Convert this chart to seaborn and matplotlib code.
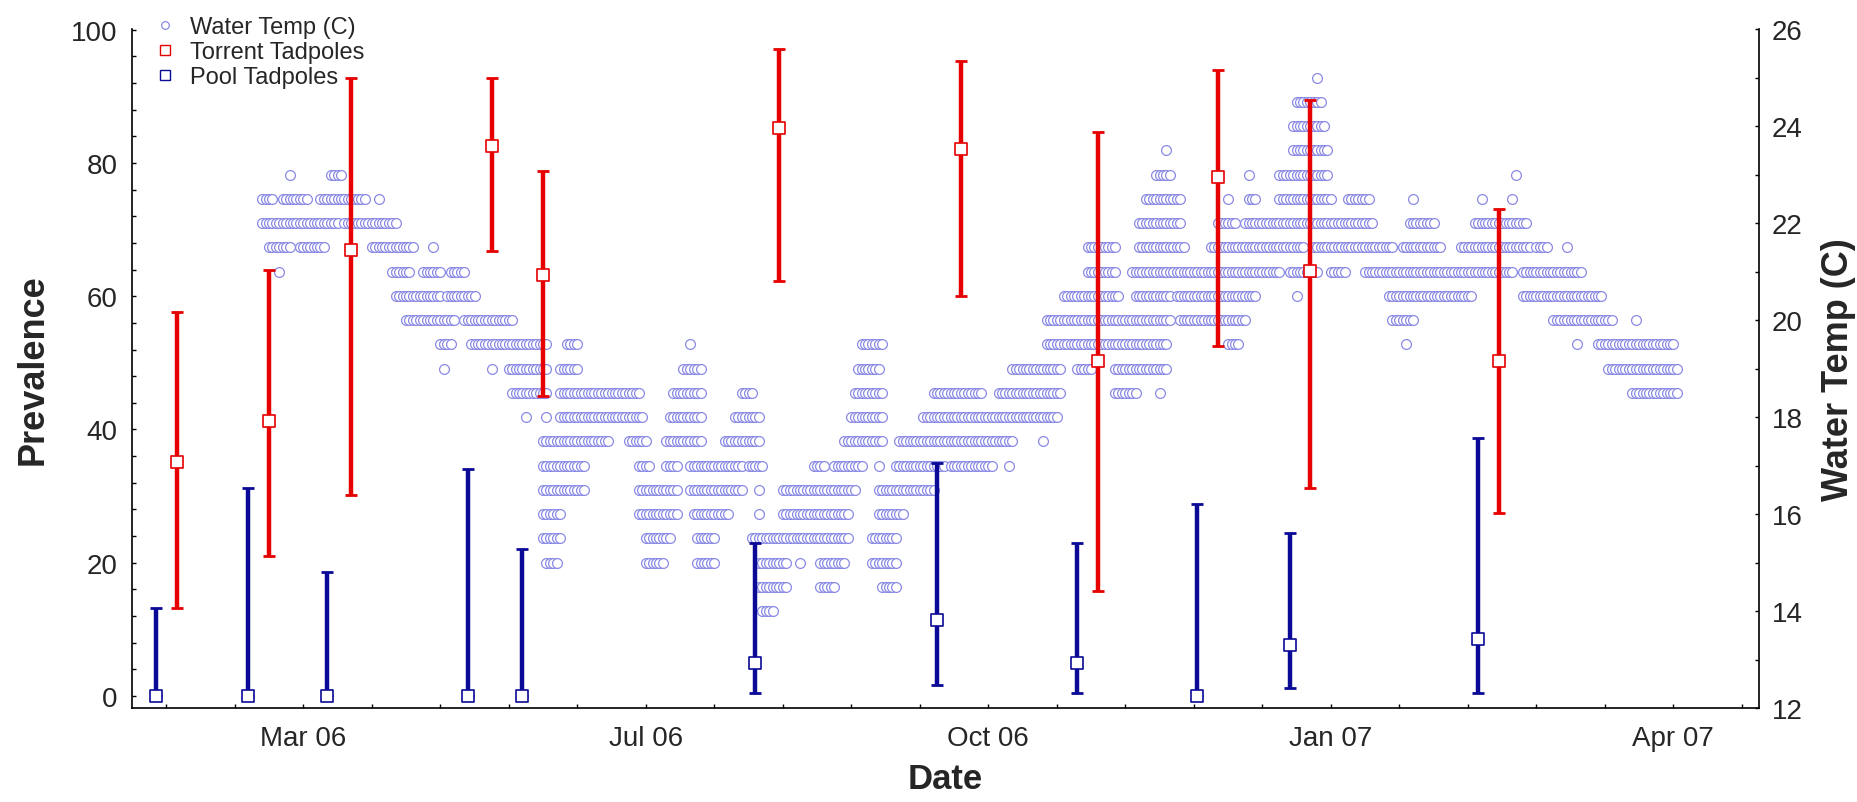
import numpy as np
import pandas as pd
import matplotlib
matplotlib.use("Agg")
import matplotlib.pyplot as plt
import matplotlib.dates as mdates
from matplotlib.ticker import FixedLocator, FixedFormatter, MultipleLocator
from matplotlib.lines import Line2D
import seaborn as sns

# ---------------- data ----------------
ORIGIN = pd.Timestamp("2006-02-03")   # temperature runs are given in days since this date

# water temperature (0.5 C logger resolution): runs of consecutive days (start, end) per level
t250 = [(346, 346)]
t245 = [(340, 347)]
t240 = [(339, 348)]
t235 = [(302, 302), (339, 349)]
t230 = [(46, 46), (58, 61), (299, 303), (326, 326), (335, 349), (404, 404)]
t225 = [(38, 41), (44, 51), (55, 68), (72, 72), (296, 306), (320, 320), (326, 328),
        (335, 350), (355, 361), (374, 374), (394, 394), (403, 403)]
t220 = [(38, 60), (62, 77), (294, 306), (317, 322), (325, 362), (373, 380), (392, 407)]
t215 = [(40, 46), (49, 56), (70, 82), (88, 88), (279, 287), (294, 307), (315, 342),
        (345, 368), (371, 382), (388, 408), (410, 413), (419, 419)]
t210 = [(43, 43), (76, 81), (85, 90), (93, 97), (279, 287), (292, 335), (338, 346),
        (350, 354), (360, 403), (406, 423)]
t205 = [(77, 90), (92, 100), (272, 288), (293, 303), (305, 328), (340, 340), (367, 379),
        (380, 391), (406, 429)]
t200 = [(80, 94), (97, 111), (267, 290), (291, 303), (306, 325), (368, 374), (415, 432),
        (439, 439)]
t195 = [(90, 93), (99, 121), (127, 130), (163, 163), (213, 219), (267, 302), (320, 323),
        (372, 372), (422, 422), (428, 450)]
t190 = [(91, 91), (105, 105), (110, 121), (125, 130), (161, 166), (212, 218), (257, 271),
        (276, 280), (287, 302), (431, 451)]
t185 = [(111, 121), (125, 148), (158, 166), (178, 181), (211, 219), (234, 248), (253, 271),
        (287, 293), (300, 300), (438, 451)]
t180 = [(115, 115), (121, 121), (125, 149), (157, 166), (176, 183), (210, 219), (231, 270)]
t175 = [(120, 139), (145, 150), (156, 166), (173, 183), (208, 219), (224, 257), (266, 266)]
t170 = [(120, 132), (148, 151), (156, 159), (163, 178), (180, 184), (199, 202), (205, 213),
        (218, 218), (223, 237), (239, 251), (256, 256)]
t165 = [(120, 132), (148, 159), (163, 178), (183, 183), (190, 211), (218, 234)]
t160 = [(120, 125), (148, 159), (164, 174), (183, 183), (190, 209), (218, 225)]
t155 = [(120, 125), (150, 157), (165, 170), (181, 209), (216, 223)]
t150 = [(121, 124), (150, 155), (165, 170), (183, 191), (195, 195), (201, 208), (216, 223)]
t145 = [(183, 191), (201, 205), (219, 223)]
t140 = [(184, 187)]

temp_levels = [25.0, 24.5, 24.0, 23.5, 23.0, 22.5, 22.0, 21.5, 21.0, 20.5, 20.0, 19.5,
               19.0, 18.5, 18.0, 17.5, 17.0, 16.5, 16.0, 15.5, 15.0, 14.5, 14.0]
temp_runs = [t250, t245, t240, t235, t230, t225, t220, t215, t210, t205, t200, t195,
             t190, t185, t180, t175, t170, t165, t160, t155, t150, t145, t140]

# tadpole prevalence (mean with interval)
torrent_dates = ["2006-02-16", "2006-03-15", "2006-04-08", "2006-05-19", "2006-06-03",
                 "2006-08-11", "2006-10-03", "2006-11-12", "2006-12-17", "2007-01-13",
                 "2007-03-09"]
torrent_mean = [35.1, 41.3, 67.0, 82.6, 63.2, 85.3, 82.1, 50.3, 77.9, 63.8, 50.3]
torrent_upper = [57.7, 64.0, 92.8, 92.8, 78.8, 97.1, 95.3, 84.7, 94.0, 89.5, 73.1]
torrent_lower = [13.2, 21.0, 30.2, 66.8, 45.0, 62.3, 60.0, 15.8, 52.6, 31.2, 27.5]

pool_dates = ["2006-02-10", "2006-03-09", "2006-04-01", "2006-05-12", "2006-05-28",
              "2006-08-04", "2006-09-26", "2006-11-06", "2006-12-11", "2007-01-07",
              "2007-03-03"]
pool_mean = [0, 0, 0, 0, 0, 5.0, 11.4, 5.0, 0, 7.7, 8.6]
pool_upper = [13.2, 31.2, 18.6, 34.0, 22.1, 23.0, 35.0, 23.0, 28.8, 24.5, 38.7]
pool_lower = [0, 0, 0, 0, 0, 0.45, 1.7, 0.45, 0, 1.2, 0.45]

x_tick_dates = ["2006-03-25", "2006-07-03", "2006-10-11", "2007-01-19", "2007-04-29"]
x_tick_labels = ["Mar 06", "Jul 06", "Oct 06", "Jan 07", "Apr 07"]

# ---------------- frames ----------------
rows = []
for lvl, runs in zip(temp_levels, temp_runs):
    for a, b in runs:
        for d in range(a, b + 1):
            rows.append((ORIGIN + pd.Timedelta(days=d), lvl))
temp_df = pd.DataFrame(rows, columns=["date", "temp"]).sort_values("date", kind="stable")

tor = pd.DataFrame({"date": pd.to_datetime(torrent_dates), "mean": torrent_mean,
                    "up": torrent_upper, "lo": torrent_lower})
pool = pd.DataFrame({"date": pd.to_datetime(pool_dates), "mean": pool_mean,
                     "up": pool_upper, "lo": pool_lower})

# ---------------- style ----------------
sns.set_style("white")
plt.rcParams["font.family"] = ["Liberation Sans", "DejaVu Sans"]

RED = "#e60000"
BLUE = "#0a0a96"
TEMP = "#8a8ae6"

W, H = 1858, 803
fig = plt.figure(figsize=(W / 100, H / 100), dpi=100)
L, R, T, B = 132, 1759, 30, 709
ax = fig.add_axes([L / W, 1 - B / H, (R - L) / W, (B - T) / H])
ax2 = ax.twinx()
ax.set_zorder(ax2.get_zorder() + 1)
ax.patch.set_visible(False)

# temperature on right axis
sns.scatterplot(data=temp_df, x="date", y="temp", ax=ax2, marker="o", s=50,
                color="white", edgecolor=TEMP, linewidth=0.9, legend=False, zorder=1)

# error bars on left axis
for df, col in [(pool, BLUE), (tor, RED)]:
    ax.errorbar(df["date"], df["mean"],
                yerr=[df["mean"] - df["lo"], df["up"] - df["mean"]],
                fmt="none", ecolor=col, elinewidth=3.2, capsize=4.0, capthick=2.0, zorder=3)
    sns.scatterplot(data=df, x="date", y="mean", ax=ax, marker="s", s=64,
                    color="white", edgecolor=col, linewidth=1.2, legend=False, zorder=5)

# axes ranges
ax.set_xlim(ORIGIN, pd.Timestamp("2007-05-24"))
ax.set_ylim(-1.8, 100.1)
ax2.set_ylim(12, 26)

# ticks
ax.xaxis.set_major_locator(FixedLocator(mdates.date2num(pd.to_datetime(x_tick_dates))))
ax.xaxis.set_major_formatter(FixedFormatter(x_tick_labels))
ax.xaxis.set_minor_locator(FixedLocator(mdates.date2num(
    pd.date_range("2006-02-13", "2007-05-19", freq="20D"))))
ax.yaxis.set_major_locator(MultipleLocator(20))
ax.yaxis.set_minor_locator(MultipleLocator(4))
ax2.yaxis.set_major_locator(MultipleLocator(2))
ax2.yaxis.set_minor_locator(MultipleLocator(1))

for a in (ax, ax2):
    a.tick_params(which="both", direction="in", length=3, width=1.0, color="black")
ax.tick_params(axis="y", which="major", labelsize=20, pad=10.5)
ax.tick_params(axis="x", which="major", labelsize=20, pad=12.5)
ax2.tick_params(axis="y", which="major", labelsize=20, pad=9)
ax.tick_params(axis="y", which="both", left=True, right=False)
ax.tick_params(axis="x", which="both", bottom=True, top=False)
ax2.tick_params(axis="x", which="both", bottom=False, top=False, labelbottom=False)

for s in ["top", "right"]:
    ax.spines[s].set_visible(False)
for s in ["top", "left", "bottom"]:
    ax2.spines[s].set_visible(False)
for s in ["left", "bottom"]:
    ax.spines[s].set_linewidth(1.2)
    ax.spines[s].set_color("black")
ax2.spines["right"].set_linewidth(1.2)
ax2.spines["right"].set_color("black")

# labels
ax.set_xlabel("Date", fontsize=25, fontweight="bold")
ax.set_ylabel("Prevalence", fontsize=26, fontweight="bold")
ax2.set_ylabel("Water Temp (C)", fontsize=26, fontweight="bold")
ax.xaxis.set_label_coords(0.5, -0.0795)
ax.yaxis.set_label_coords(-0.050, 0.5)
ax2.yaxis.set_label_coords(1.038, 0.5)

# legend
handles = [
    Line2D([], [], linestyle="none", marker="o", markersize=5.5, markerfacecolor="white",
           markeredgecolor=TEMP, markeredgewidth=0.9),
    Line2D([], [], linestyle="none", marker="s", markersize=7, markerfacecolor="white",
           markeredgecolor=RED, markeredgewidth=1.0),
    Line2D([], [], linestyle="none", marker="s", markersize=7, markerfacecolor="white",
           markeredgecolor=BLUE, markeredgewidth=1.0),
]
fig.legend(handles, ["Water Temp (C)", "Torrent Tadpoles", "Pool Tadpoles"],
           loc="upper left", bbox_to_anchor=(153 / W, 1 - 17 / H), frameon=False,
           fontsize=17, handlelength=1.0, handletextpad=0.55, labelspacing=0.13,
           borderpad=0, borderaxespad=0)

fig.savefig("out.png", dpi=100, facecolor="white")
